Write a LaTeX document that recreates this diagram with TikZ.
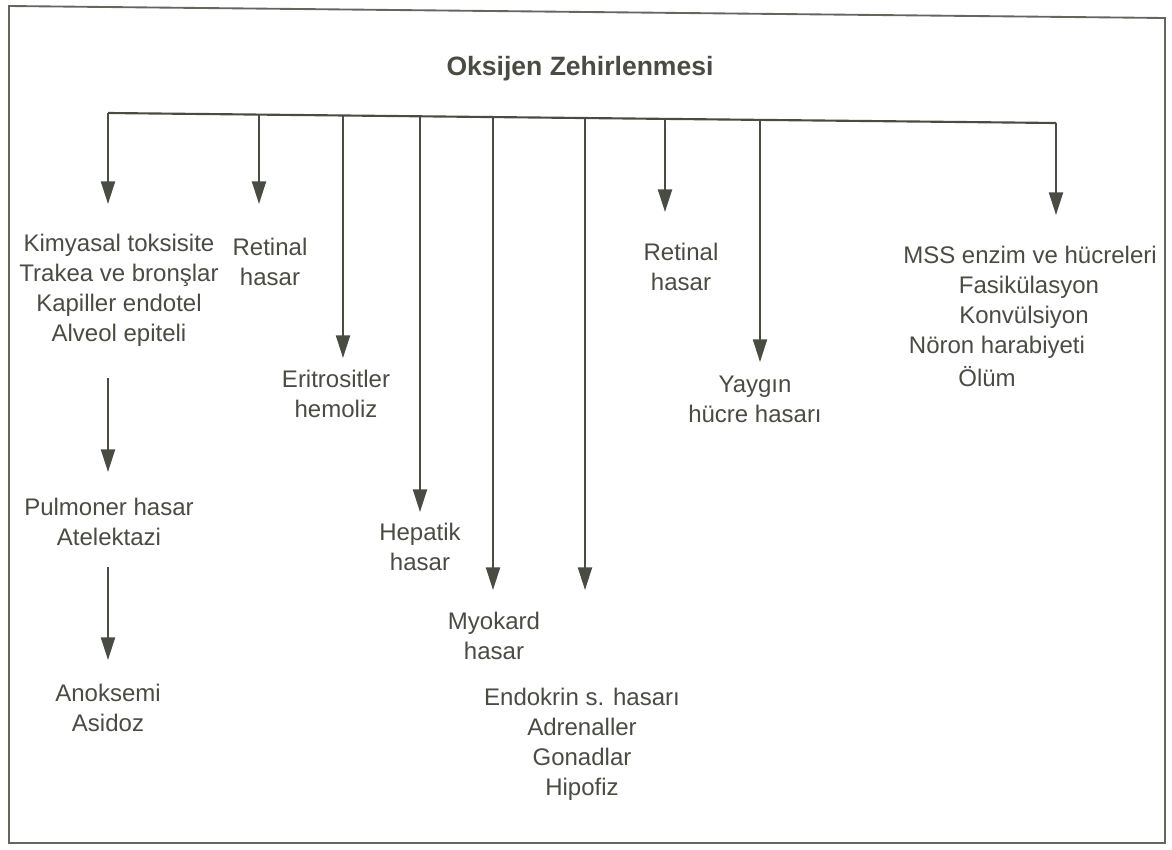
\documentclass[tikz,border=0pt]{standalone}
\usepackage{fontspec}
\setmainfont{Liberation Sans}
\usetikzlibrary{arrows.meta}
\definecolor{ink}{RGB}{72,76,66}
\begin{document}
\begin{tikzpicture}[x=0.75pt,y=-0.75pt,
  lbl/.style={align=center,text=ink,font=\fontsize{18}{22.5}\selectfont,inner sep=0pt},
  ttl/.style={text=ink,font=\fontsize{19.9}{24}\selectfont\bfseries,inner sep=0pt},
  arr/.style={draw=ink,line width=1.6pt,-{Triangle[length=17pt,width=10.5pt]}},
  bus/.style={draw=ink,line width=1.6pt},
  frame/.style={draw=ink!85,line width=1.4pt}]
\useasboundingbox (0,0) rectangle (1172,850);
\draw[frame] (9,6) -- (1165,18) -- (1165,843) -- (9,843) -- cycle;

% title
\node[ttl] (title) at (580,69) {Oksijen Zehirlenmesi};

% bus coordinates
\coordinate (b1) at (108,113);
\coordinate (b2) at (259,114.6);
\coordinate (b3) at (343,115.5);
\coordinate (b4) at (420,116.3);
\coordinate (b5) at (493,117.1);
\coordinate (b6) at (585,118);
\coordinate (b7) at (665,118.8);
\coordinate (b8) at (760,119.9);
\coordinate (b9) at (1056,123);
\draw[bus] (b1) -- (b9);

% arrow tips
\coordinate (t1) at (108,204);
\coordinate (t2) at (259,204);
\coordinate (t3) at (343,358);
\coordinate (t4) at (420,512);
\coordinate (t5) at (493,590);
\coordinate (t6) at (585,590);
\coordinate (t7) at (665,212);
\coordinate (t8) at (760,362);
\coordinate (t9) at (1056,215);
\foreach \i in {1,...,9} {\draw[arr] (b\i) -- (t\i);}

% labels
\node[lbl] (kim) at (119,290) {Kimyasal toksisite\\Trakea ve bronşlar\\Kapiller endotel\\Alveol epiteli};
\node[lbl] (ret1) at (270,262) {Retinal\\hasar};
\node[lbl] (eri) at (336,394) {Eritrositler\\hemoliz};
\node[lbl] (hep) at (420,547) {Hepatik\\hasar};
\node[lbl] (myo) at (494,636) {Myokard\\hasar};
\node[lbl] (endo) at (582,744) {Endokrin s. hasarı\\Adrenaller\\Gonadlar\\Hipofiz};
\node[lbl] (ret2) at (681,267) {Retinal\\hasar};
\node[lbl] (yay) at (755,399) {Yaygın\\hücre hasarı};
\node[lbl] (mss1) at (1030,255) {MSS enzim ve hücreleri};
\node[lbl] (mss2) at (1029,287) {Fasikülasyon};
\node[lbl] (mss3) at (1024,317) {Konvülsiyon};
\node[lbl] (mss4) at (997,347) {Nöron harabiyeti};
\node[lbl] (mss5) at (987,377) {Ölüm};
\node[lbl] (pul) at (109,522) {Pulmoner hasar\\Atelektazi};
\node[lbl] (ano) at (108,708) {Anoksemi\\Asidoz};

% chain arrows
\coordinate (c1) at (108,378);
\coordinate (c1t) at (108,472);
\coordinate (c2) at (108,567);
\coordinate (c2t) at (108,660);
\draw[arr] (c1) -- (c1t);
\draw[arr] (c2) -- (c2t);
\end{tikzpicture}
\end{document}
